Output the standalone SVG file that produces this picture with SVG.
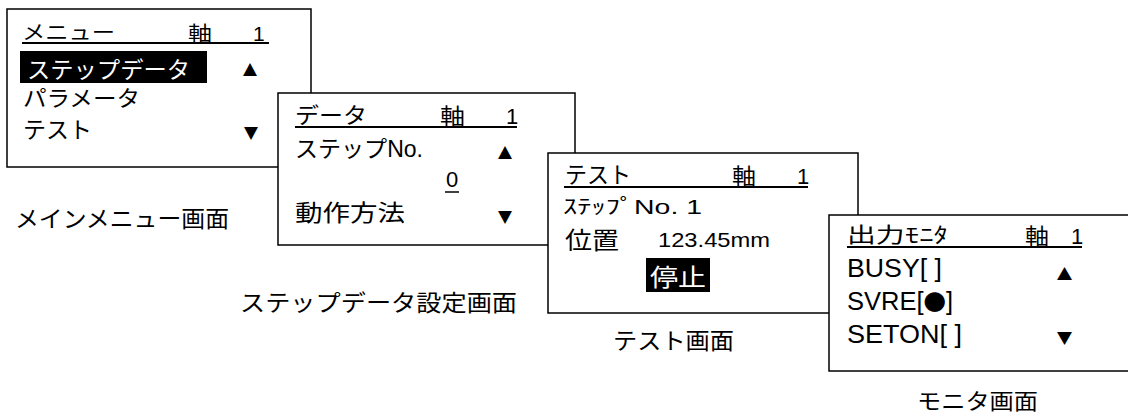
<svg xmlns="http://www.w3.org/2000/svg" width="1128" height="416" viewBox="0 0 1128 416">
<style>
.box{fill:#fff;stroke:#000;stroke-width:1.5}
.ul{stroke:#000;stroke-width:2}
.jp{font-family:"Noto Sans CJK JP","Liberation Sans",sans-serif;fill:#000}
.lt{font-family:"Liberation Sans","Noto Sans CJK JP",sans-serif;fill:#000}
.tri{font-family:"DejaVu Sans",sans-serif;font-size:17px;fill:#000}
.w{fill:#fff}
</style>
<rect width="1128" height="416" fill="#fff"/>
<g id="connectors"></g>
<g id="node-main-menu">
<rect class="box" x="7" y="9" width="304" height="158"/>
<text class="jp" x="22" y="40" font-size="20" textLength="93" lengthAdjust="spacingAndGlyphs">メニュー</text>
<text class="jp" x="188" y="41" font-size="20" textLength="24" lengthAdjust="spacingAndGlyphs">軸</text>
<text class="lt" x="253" y="41" font-size="21">1</text>
<line class="ul" x1="22" y1="43" x2="269" y2="43"/>
<rect x="20" y="51" width="187" height="32" fill="#000"/>
<text class="jp w" x="27" y="78" font-size="23" textLength="163" lengthAdjust="spacingAndGlyphs">ステップデータ</text>
<text class="tri" x="243" y="74" textLength="14" lengthAdjust="spacingAndGlyphs">▲</text>
<text class="jp" x="23" y="106" font-size="22" textLength="117" lengthAdjust="spacingAndGlyphs">パラメータ</text>
<text class="jp" x="23" y="138" font-size="23" textLength="69" lengthAdjust="spacingAndGlyphs">テスト</text>
<text class="tri" x="244" y="138" textLength="14" lengthAdjust="spacingAndGlyphs">▼</text>
<text class="jp" x="15" y="227" font-size="23" textLength="214" lengthAdjust="spacingAndGlyphs">メインメニュー画面</text>
</g>
<g id="node-step-data">
<rect class="box" x="278" y="93" width="297" height="152"/>
<text class="jp" x="295" y="123" font-size="22" textLength="72" lengthAdjust="spacingAndGlyphs">データ</text>
<text class="jp" x="440" y="124" font-size="22" textLength="25" lengthAdjust="spacingAndGlyphs">軸</text>
<text class="lt" x="506" y="124" font-size="22">1</text>
<line class="ul" x1="295" y1="127" x2="517" y2="127"/>
<text class="lt" x="295" y="157" font-size="23" textLength="128" lengthAdjust="spacingAndGlyphs">ステップNo.</text>
<text class="tri" x="498" y="157" textLength="14" lengthAdjust="spacingAndGlyphs">▲</text>
<text class="lt" x="446" y="187" font-size="22">0</text>
<line x1="445" y1="192" x2="459" y2="192" stroke="#000" stroke-width="1.5"/>
<text class="jp" x="295" y="221" font-size="23" textLength="110" lengthAdjust="spacingAndGlyphs">動作方法</text>
<text class="tri" x="498" y="222" textLength="14" lengthAdjust="spacingAndGlyphs">▼</text>
<text class="jp" x="240" y="311" font-size="23" textLength="277" lengthAdjust="spacingAndGlyphs">ステップデータ設定画面</text>
</g>
<g id="node-test">
<rect class="box" x="548" y="153" width="310" height="160"/>
<text class="jp" x="565" y="183" font-size="23" textLength="66" lengthAdjust="spacingAndGlyphs">テスト</text>
<text class="jp" x="732" y="184" font-size="22" textLength="24" lengthAdjust="spacingAndGlyphs">軸</text>
<text class="lt" x="797" y="184" font-size="22">1</text>
<line class="ul" x1="564" y1="187" x2="808" y2="187"/>
<text class="lt" x="563" y="214" font-size="20" textLength="139" lengthAdjust="spacingAndGlyphs">ｽﾃｯﾌﾟNo.  1</text>
<text class="jp" x="565" y="249" font-size="24" textLength="54" lengthAdjust="spacingAndGlyphs">位置</text>
<text class="lt" x="658" y="247" font-size="21" textLength="112" lengthAdjust="spacingAndGlyphs">123.45mm</text>
<rect x="646" y="258" width="64" height="34" fill="#000"/>
<text class="jp w" x="650" y="286" font-size="24" textLength="56" lengthAdjust="spacingAndGlyphs">停止</text>
<text class="jp" x="613" y="349" font-size="23" textLength="121" lengthAdjust="spacingAndGlyphs">テスト画面</text>
</g>
<g id="node-monitor">
<rect class="box" x="829" y="215" width="302" height="156"/>
<text class="jp" x="847" y="242" font-size="21" textLength="101" lengthAdjust="spacingAndGlyphs">出力ﾓﾆﾀ</text>
<text class="jp" x="1025" y="244" font-size="22" textLength="24" lengthAdjust="spacingAndGlyphs">軸</text>
<text class="lt" x="1071" y="244" font-size="22">1</text>
<line class="ul" x1="847" y1="247" x2="1082" y2="247"/>
<text class="lt" x="847" y="277" font-size="25" textLength="95" lengthAdjust="spacingAndGlyphs">BUSY[  ]</text>
<text class="tri" x="1057" y="278" textLength="15" lengthAdjust="spacingAndGlyphs">▲</text>
<text class="lt" x="847" y="310" font-size="25" textLength="106" lengthAdjust="spacingAndGlyphs">SVRE[<tspan font-family="Noto Sans CJK JP, sans-serif" font-size="22">●</tspan>]</text>
<text class="lt" x="847" y="343" font-size="25" textLength="115" lengthAdjust="spacingAndGlyphs">SETON[  ]</text>
<text class="tri" x="1057" y="343" textLength="15" lengthAdjust="spacingAndGlyphs">▼</text>
<text class="jp" x="917" y="409" font-size="22" textLength="121" lengthAdjust="spacingAndGlyphs">モニタ画面</text>
</g>
</svg>
